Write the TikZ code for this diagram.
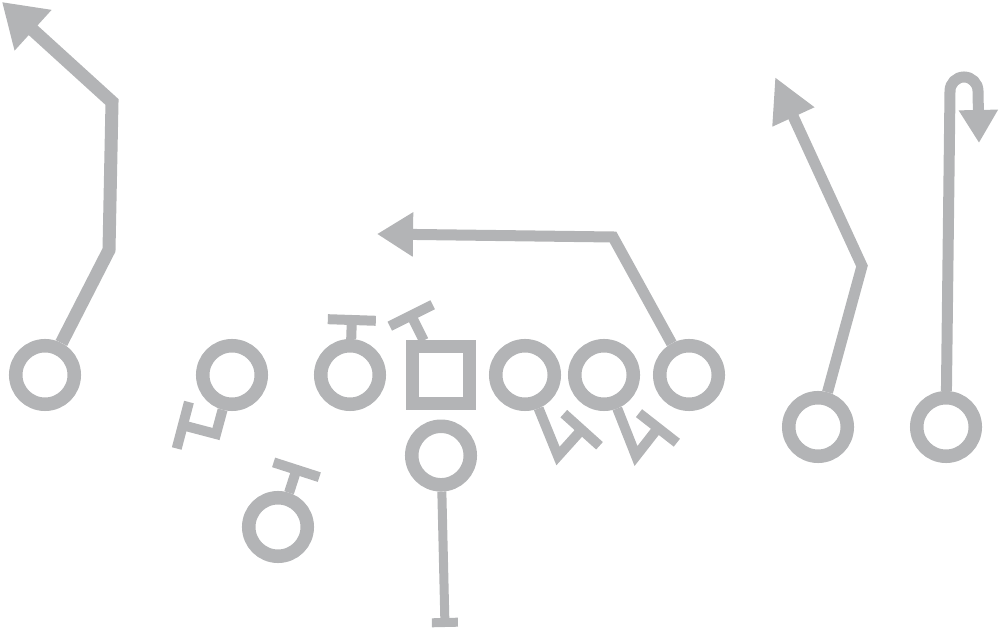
\documentclass[tikz,border=0pt]{standalone}
\usetikzlibrary{arrows.meta,positioning}
\definecolor{playgray}{RGB}{179,180,182}

\begin{document}
\begin{tikzpicture}[x=0.01cm,y=-0.01cm,
    player/.style={circle,draw=playgray,line width=0.135cm,minimum size=0.585cm,inner sep=0pt},
    snapper/.style={rectangle,draw=playgray,line width=0.125cm,minimum size=0.565cm,inner sep=0pt},
    route/.style={draw=playgray,line width=0.11cm},
    block/.style={route,line width=0.1cm,-{Bar[width=0.48cm]}},
    pass/.style={route,-{Triangle[length=0.4cm,width=0.43cm]}}]
  \useasboundingbox (0,0) rectangle (1000,628);

  \node[player] (lwr) at (45,375) {};
  \node[player] (lg) at (232,375) {};
  \node[player] (lt) at (350,375) {};
  \node[snapper] (c) at (441,375) {};
  \node[player] (rg) at (525,375) {};
  \node[player] (rt) at (604,375) {};
  \node[player] (te) at (689,375) {};
  \node[player] (qb) [below=0.1cm of c] {};
  \node[player] (rb) at (278,527) {};
  \node[player] (swr) at (818,427) {};
  \node[player] (fwr) at (946,427) {};

  \coordinate (lwr1) at (109,250);
  \coordinate (lwr2) at (112,102);
  \coordinate (lwr3) at (2,2);
  \coordinate (te1) at (613,237);
  \coordinate (te2) at (377,234);
  \coordinate (swr1) at (862,266);
  \coordinate (swr2) at (775,77);
  \coordinate (fwr1) at (950,91);
  \coordinate (fwr2) at (979,143);
  \coordinate (lg1) at (216,434);
  \coordinate (lg2) at (178,424);
  \coordinate (lt1) at (352,315);
  \coordinate (c1) at (409,311);
  \coordinate (rb1) at (298,465);
  \coordinate (rg1) at (558,456);
  \coordinate (rg2) at (585,426);
  \coordinate (rt1) at (636,456);
  \coordinate (rt2) at (661,424);
  \coordinate (qb1) at (445,627);

  \draw[pass,line width=0.13cm,-{Triangle[length=0.42cm,width=0.52cm]}] (lwr) -- (lwr1) -- (lwr2) -- (lwr3);
  \draw[pass,-{Triangle[length=0.36cm,width=0.42cm]}] (te) -- (te1) -- (te2);
  \draw[pass,-{Triangle[length=0.44cm,width=0.43cm]}] (swr) -- (swr1) -- (swr2);
  \draw[pass,-{Triangle[length=0.33cm,width=0.37cm]}] (fwr) -- (fwr1) arc[start angle=180,end angle=360,radius=14] -- (fwr2);

  \draw[block] (lg) -- (lg1) -- (lg2);
  \draw[block] (lt) -- (lt1);
  \draw[block] (c) -- (c1);
  \draw[block] (rb) -- (rb1);
  \draw[block] (rg) -- (rg1) -- (rg2);
  \draw[block] (rt) -- (rt1) -- (rt2);
  \draw[block,line width=0.09cm,-{Bar[width=0.26cm]}] (qb) -- (qb1);
\end{tikzpicture}
\end{document}
